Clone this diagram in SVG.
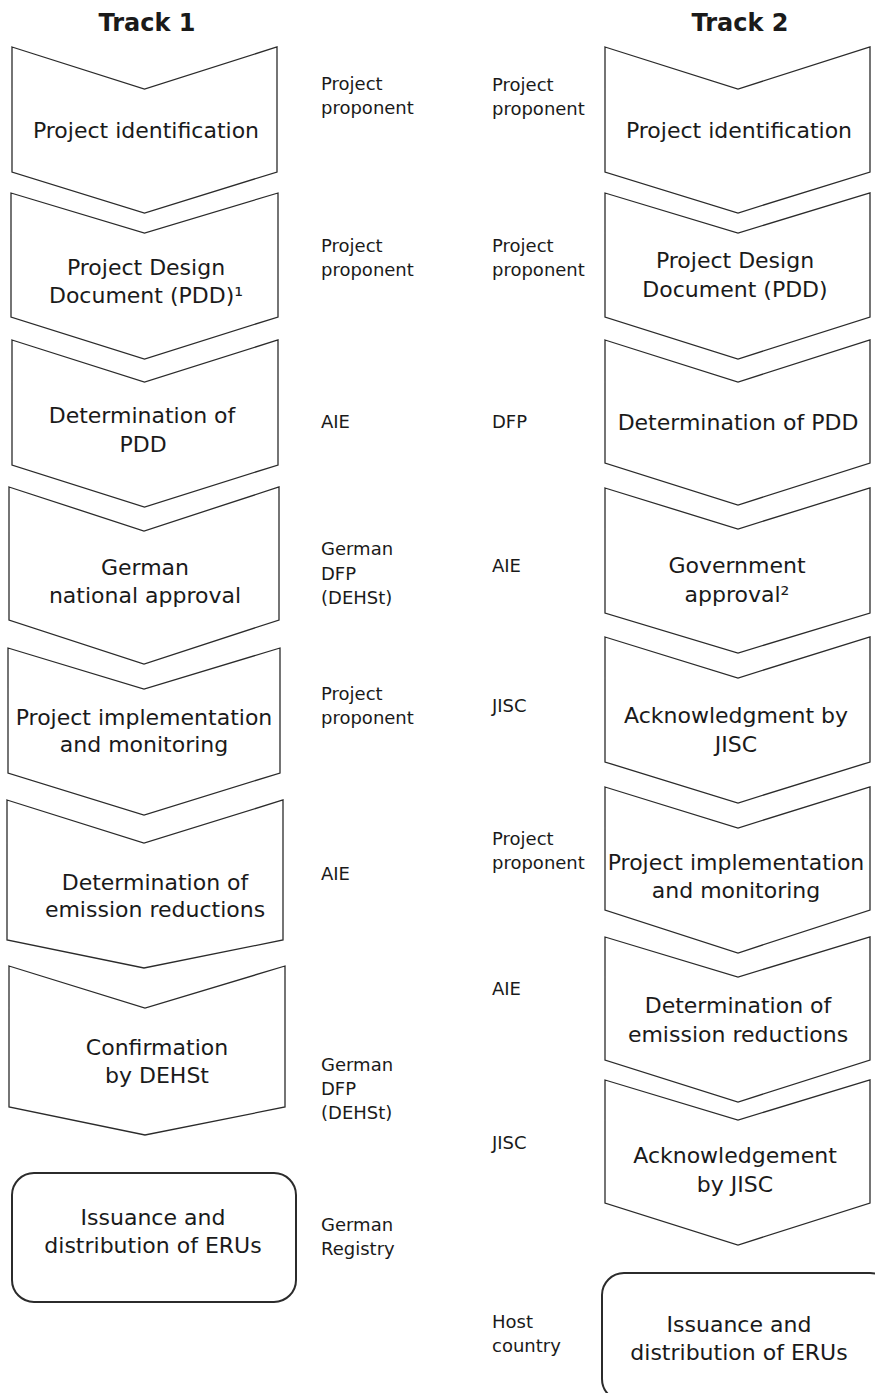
<svg xmlns="http://www.w3.org/2000/svg" width="875" height="1393" viewBox="0 0 875 1393">
  <style>
    .chev { fill: #ffffff; stroke: #2b2b2b; stroke-width: 1.3; stroke-linejoin: miter; }
    .box { fill: #ffffff; stroke: #2b2b2b; stroke-width: 2; }
    .title { font-family: "DejaVu Sans", "Liberation Sans", sans-serif; font-size: 24px; font-weight: bold; fill: #1a1a1a; text-anchor: middle; }
    .step { font-family: "DejaVu Sans", "Liberation Sans", sans-serif; font-size: 22px; fill: #1a1a1a; text-anchor: middle; }
    .actor { font-family: "DejaVu Sans", "Liberation Sans", sans-serif; font-size: 18px; fill: #1a1a1a; }
  </style>
  <rect x="0" y="0" width="875" height="1393" fill="#ffffff"/>

  <!-- column headings -->
  <text class="title" x="147" y="31">Track 1</text>
  <text class="title" x="740" y="31">Track 2</text>

  <!-- Track 1 steps -->
  <g id="t1-identification">
    <path class="chev" d="M12,47 L144.5,89 L277,47 L277,172 L144.5,213 L12,172 Z"/>
    <text class="step" x="146" y="138">Project identification</text>
  </g>
  <g id="t1-pdd">
    <path class="chev" d="M11,193 L144.5,233 L278,193 L278,317 L144.5,359 L11,317 Z"/>
    <text class="step" x="146" y="275">Project Design</text>
    <text class="step" x="146" y="303">Document (PDD)¹</text>
  </g>
  <g id="t1-determination-pdd">
    <path class="chev" d="M12,340 L144.5,382 L278,340 L278,465 L144.5,507 L12,465 Z"/>
    <text class="step" x="142" y="423">Determination of</text>
    <text class="step" x="143" y="452">PDD</text>
  </g>
  <g id="t1-national-approval">
    <path class="chev" d="M9,487 L144,531 L279,487 L279,620 L144,664 L9,620 Z"/>
    <text class="step" x="145" y="575">German</text>
    <text class="step" x="145" y="603">national approval</text>
  </g>
  <g id="t1-implementation">
    <path class="chev" d="M8,648 L144,689 L280,648 L280,773 L144,815 L8,773 Z"/>
    <text class="step" x="144" y="725">Project implementation</text>
    <text class="step" x="144" y="752">and monitoring</text>
  </g>
  <g id="t1-determination-er">
    <path class="chev" d="M7,800 L144,843 L283,800 L283,940 L144,968 L7,940 Z"/>
    <text class="step" x="155" y="890">Determination of</text>
    <text class="step" x="155" y="917">emission reductions</text>
  </g>
  <g id="t1-confirmation">
    <path class="chev" d="M9,966 L145,1008 L285,966 L285,1107 L145,1135 L9,1107 Z"/>
    <text class="step" x="157" y="1055">Confirmation</text>
    <text class="step" x="157" y="1083">by DEHSt</text>
  </g>
  <g id="t1-issuance">
    <rect class="box" x="12" y="1173" width="284" height="129" rx="22" ry="22"/>
    <text class="step" x="153" y="1225">Issuance and</text>
    <text class="step" x="153" y="1253">distribution of ERUs</text>
  </g>

  <!-- Track 1 responsible parties -->
  <g id="t1-actors">
    <text class="actor" x="321" y="90">Project</text>
    <text class="actor" x="321" y="114">proponent</text>
    <text class="actor" x="321" y="252">Project</text>
    <text class="actor" x="321" y="276">proponent</text>
    <text class="actor" x="321" y="428">AIE</text>
    <text class="actor" x="321" y="555">German</text>
    <text class="actor" x="321" y="580">DFP</text>
    <text class="actor" x="321" y="604">(DEHSt)</text>
    <text class="actor" x="321" y="700">Project</text>
    <text class="actor" x="321" y="724">proponent</text>
    <text class="actor" x="321" y="880">AIE</text>
    <text class="actor" x="321" y="1071">German</text>
    <text class="actor" x="321" y="1095">DFP</text>
    <text class="actor" x="321" y="1119">(DEHSt)</text>
    <text class="actor" x="321" y="1231">German</text>
    <text class="actor" x="321" y="1255">Registry</text>
  </g>

  <!-- Track 2 responsible parties -->
  <g id="t2-actors">
    <text class="actor" x="492" y="91">Project</text>
    <text class="actor" x="492" y="115">proponent</text>
    <text class="actor" x="492" y="252">Project</text>
    <text class="actor" x="492" y="276">proponent</text>
    <text class="actor" x="492" y="428">DFP</text>
    <text class="actor" x="492" y="572">AIE</text>
    <text class="actor" x="492" y="712">JISC</text>
    <text class="actor" x="492" y="845">Project</text>
    <text class="actor" x="492" y="869">proponent</text>
    <text class="actor" x="492" y="995">AIE</text>
    <text class="actor" x="492" y="1149">JISC</text>
    <text class="actor" x="492" y="1328">Host</text>
    <text class="actor" x="492" y="1352">country</text>
  </g>

  <!-- Track 2 steps -->
  <g id="t2-identification">
    <path class="chev" d="M605,47 L738,89 L870,47 L870,172 L738,213 L605,172 Z"/>
    <text class="step" x="739" y="138">Project identification</text>
  </g>
  <g id="t2-pdd">
    <path class="chev" d="M605,193 L738,233 L870,193 L870,317 L738,359 L605,317 Z"/>
    <text class="step" x="735" y="268">Project Design</text>
    <text class="step" x="735" y="297">Document (PDD)</text>
  </g>
  <g id="t2-determination-pdd">
    <path class="chev" d="M605,340 L738,382 L870,340 L870,463 L738,505 L605,463 Z"/>
    <text class="step" x="738" y="430">Determination of PDD</text>
  </g>
  <g id="t2-government-approval">
    <path class="chev" d="M605,488 L738,529 L870,488 L870,613 L738,653 L605,613 Z"/>
    <text class="step" x="737" y="573">Government</text>
    <text class="step" x="737" y="602">approval²</text>
  </g>
  <g id="t2-acknowledgment">
    <path class="chev" d="M605,637 L738,678 L870,637 L870,762 L738,803 L605,762 Z"/>
    <text class="step" x="736" y="723">Acknowledgment by</text>
    <text class="step" x="736" y="752">JISC</text>
  </g>
  <g id="t2-implementation">
    <path class="chev" d="M605,787 L738,828 L870,787 L870,910 L738,953 L605,910 Z"/>
    <text class="step" x="736" y="870">Project implementation</text>
    <text class="step" x="736" y="898">and monitoring</text>
  </g>
  <g id="t2-determination-er">
    <path class="chev" d="M605,937 L738,977 L870,937 L870,1060 L738,1102 L605,1060 Z"/>
    <text class="step" x="738" y="1013">Determination of</text>
    <text class="step" x="738" y="1042">emission reductions</text>
  </g>
  <g id="t2-acknowledgement">
    <path class="chev" d="M605,1080 L738,1120 L870,1080 L870,1203 L738,1245 L605,1203 Z"/>
    <text class="step" x="735" y="1163">Acknowledgement</text>
    <text class="step" x="735" y="1192">by JISC</text>
  </g>
  <g id="t2-issuance">
    <rect class="box" x="602" y="1273" width="290" height="128" rx="22" ry="22"/>
    <text class="step" x="739" y="1332">Issuance and</text>
    <text class="step" x="739" y="1360">distribution of ERUs</text>
  </g>

  <!-- flow is carried by the nested chevron shapes; no separate connector lines -->
  <g id="connectors"/>
</svg>
